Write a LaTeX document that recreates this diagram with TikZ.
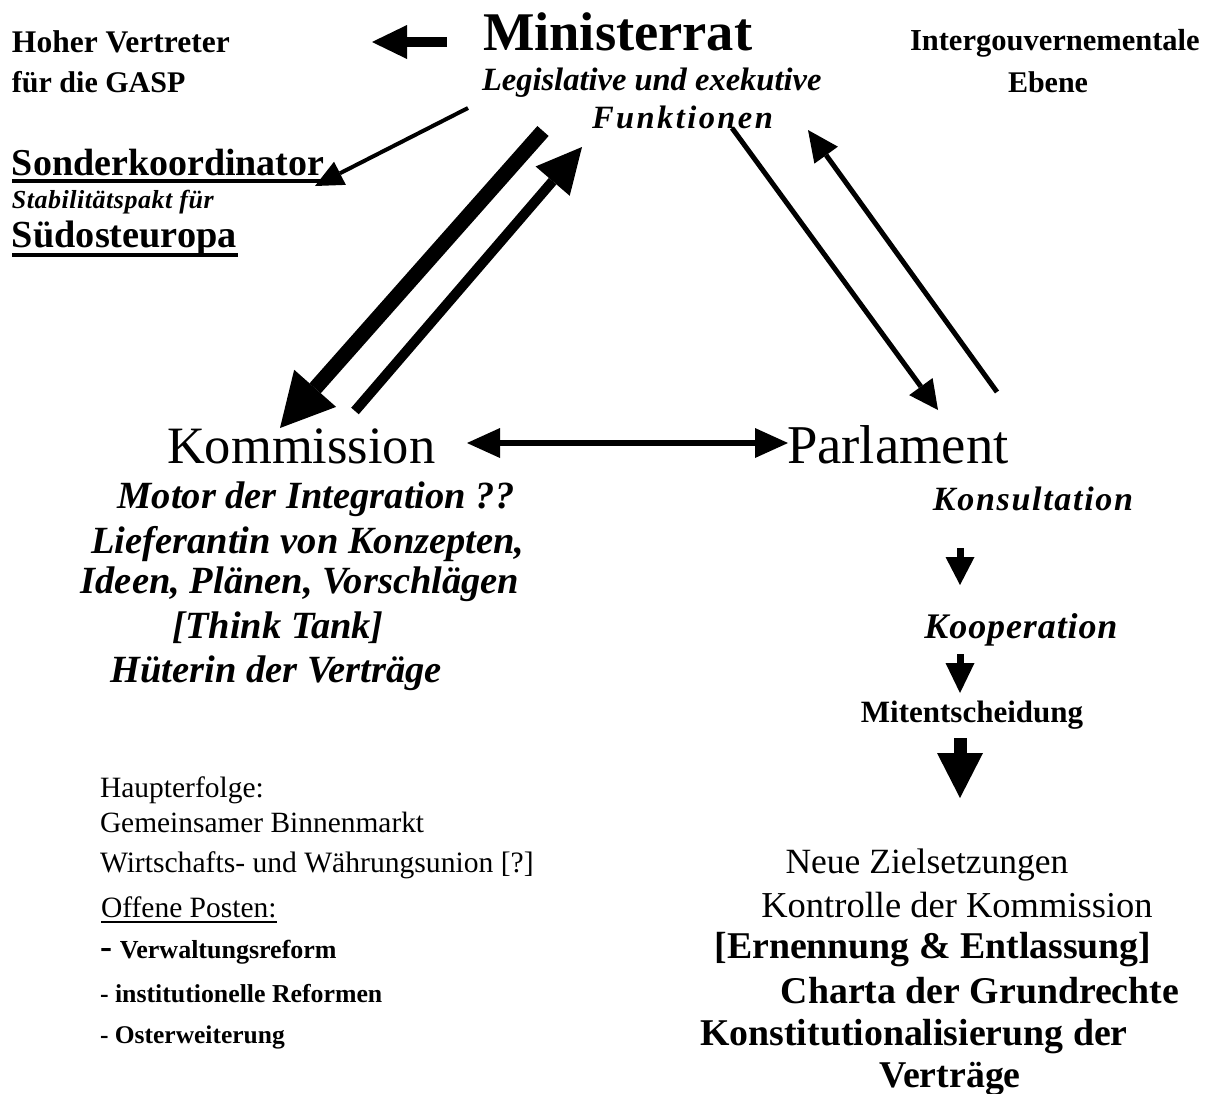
\documentclass[tikz,border=0pt]{standalone}
\usepackage{fontspec}
\setmainfont{Liberation Serif}
\usetikzlibrary{arrows.meta}
\newcommand\fsz[1]{\fontsize{#1}{#1}\selectfont}
\begin{document}
\begin{tikzpicture}[x=1pt,y=-1pt,
  tw/.style={inner sep=0pt, outer sep=0pt, anchor=base west},
  tc/.style={inner sep=0pt, outer sep=0pt, anchor=base},
  rg/.style={font=\fsz{#1}},
  bd/.style={font=\fsz{#1}\bfseries},
  bi/.style={font=\fsz{#1}\bfseries\itshape},
  bis/.style args={#1/#2}{font=\fsz{#1}\bfseries\itshape\addfontfeatures{LetterSpace=#2}},
  tip/.style args={#1/#2}{-{Triangle[length=#1pt,width=#2pt,line width=0pt]}},
  dtip/.style args={#1/#2}{{Triangle[length=#1pt,width=#2pt,line width=0pt]}-{Triangle[length=#1pt,width=#2pt,line width=0pt]}}
]
\fill[white] (0,0) rectangle (1216,1093);
\useasboundingbox (0,0) rectangle (1216,1093);

% top texts
\node[tw,bd=31.5] (hv1) at (12,52) {Hoher Vertreter};
\node[tw,bd=30] (hv2) at (12,92) {für die GASP};
\node[tw,bd=54.5] (min) at (483,50) {Ministerrat};
\node[tw,bi=32.5] (leg) at (482,90) {Legislative und exekutive};
\node[tw,bis=32.5/7.5] (fun) at (592,128) {Funktionen};
\node[tw,bd=30.5] (ig1) at (910,50) {Intergouvernementale};
\node[tw,bd=30] (ig2) at (1008,92) {Ebene};
\node[tw,bd=38] (sk) at (12,175) {Sonderkoordinator};
\node[tw,bis=26/2] (stab) at (12,208) {Stabilitätspakt für};
\node[tw,bd=38.3] (sud) at (12,247) {Südosteuropa};
\draw[line width=3.5pt] ([yshift=-6pt]sk.base west) -- ++(321,0);
\draw[line width=3.5pt] ([yshift=-8pt]sud.base west) -- ++(226,0);

% main nodes
\node[tw,rg=52.5] (kom) at (167,463) {Kommission};
\node[tw,rg=54.7] (par) at (787,463) {Parlament};

% Kommission description
\node[tc,bi=38.5] (k1) at (316,508) {Motor der Integration ??};
\node[tc,bi=38.5] (k2) at (308,553) {Lieferantin von Konzepten,};
\node[tc,bi=38.5] (k3) at (300,593) {Ideen, Plänen, Vorschlägen};
\node[tc,bi=38.5] (k4) at (278,638) {[Think Tank]};
\node[tc,bi=38.5] (k5) at (276,682) {Hüterin der Verträge};

% Parlament chain
\node[tc,bis=34/5] (kons) at (1033,510) {Konsultation};
\node[tc,bis=36/2.5] (koop) at (1021,638) {Kooperation};
\node[tc,bd=31] (mit) at (972,722) {Mitentscheidung};

% right bottom list
\node[tc,rg=35.5] (neu) at (927,873) {Neue Zielsetzungen};
\node[tc,rg=36.5] (kon) at (957,917) {Kontrolle der Kommission};
\node[tc,bd=37.8] (ern) at (933,958) {[Ernennung \& Entlassung]};
\node[tc,bd=37.8] (cha) at (980,1003) {Charta der Grundrechte};
\node[tc,bd=37.8] (kst) at (914,1045) {Konstitutionalisierung der};
\node[tc,bd=37.8] (ver) at (950,1087) {Verträge};

% left bottom list
\node[tw,rg=29.5] (hau) at (100,797) {Haupterfolge:};
\node[tw,rg=29.4] (gem) at (100,832) {Gemeinsamer Binnenmarkt};
\node[tw,rg=29.6] (wwu) at (100,872) {Wirtschafts-  und Währungsunion [?]};
\node[tw,rg=29.5] (off) at (101,917) {Offene Posten:};
\draw[line width=2pt] ([yshift=-5pt]off.base west) -- ([yshift=-5pt]off.base east);
\node[tw,bd=26] (vw) at (100,958) {{\fsz{36}-}\hspace{8pt}Verwaltungsreform};
\node[tw,bd=25.8] (inst) at (100,1002) {- institutionelle Reformen};
\node[tw,bd=25.5] (ost) at (100,1043) {- Osterweiterung};

% arrow end points
\coordinate (a1s) at (447,42);  \coordinate (a1e) at (372,42);
\coordinate (a2s) at (468,108); \coordinate (a2e) at (315,186);
\coordinate (a3s) at (543,131); \coordinate (a3e) at (280,428);
\coordinate (a4s) at (355,411); \coordinate (a4e) at (582,147);
\coordinate (a5s) at (732,128); \coordinate (a5e) at (938,410);
\coordinate (a6s) at (997,392); \coordinate (a6e) at (808,130);
\coordinate (a7s) at (467,443); \coordinate (a7e) at (788,443);
\coordinate (a8s) at (960,548); \coordinate (a8e) at (960,585);
\coordinate (a9s) at (960,654); \coordinate (a9e) at (960,693);
\coordinate (a10s) at (960,738); \coordinate (a10e) at (960,798);

\draw[line width=10pt, tip=35/34] (a1s) -- (a1e);
\draw[line width=4pt, tip=28/26] (a2s) -- (a2e);
\draw[line width=15pt, tip=53/56] (a3s) -- (a3e);
\draw[line width=10pt, tip=45/45] (a4s) -- (a4e);
\draw[line width=5pt, tip=29/29] (a5s) -- (a5e);
\draw[line width=5pt, tip=31/29] (a6s) -- (a6e);
\draw[line width=6pt, dtip=33/30] (a7s) -- (a7e);
\draw[line width=7pt, tip=28/29] (a8s) -- (a8e);
\draw[line width=7pt, tip=30/29] (a9s) -- (a9e);
\draw[line width=13pt, tip=45/46] (a10s) -- (a10e);
\end{tikzpicture}
\end{document}
